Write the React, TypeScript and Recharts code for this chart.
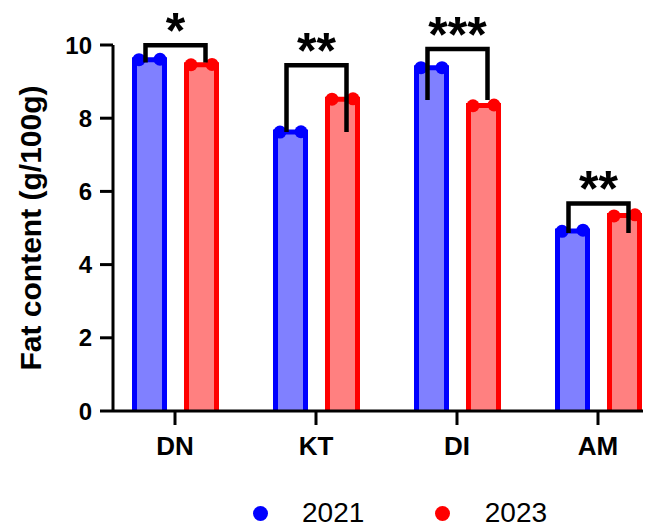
import { BarChart, Bar, XAxis, YAxis, Legend, LabelList } from 'recharts'

// values
const categories = ['DN', 'KT', 'DI', 'AM']
const mean2021 = [9.6, 7.62, 9.38, 4.92]
const mean2023 = [9.46, 8.52, 8.35, 5.34]
const reps2021 = [[9.6, 9.61], [7.62, 7.63], [9.38, 9.38], [4.91, 4.94]]
const reps2023 = [[9.46, 9.47], [8.52, 8.53], [8.34, 8.36], [5.33, 5.36]]
const bracketLow = [9.52, 7.62, 8.5, 4.86]
const bracketHigh = [9.99, 9.45, 9.89, 5.67]
const stars = ['*', '**', '***', '**']
const yTicks = [0, 2, 4, 6, 8, 10]

const rows = categories.map((name, i) => ({
    name,
    y2021: mean2021[i],
    y2023: mean2023[i],
    r2021: reps2021[i],
    r2023: reps2023[i],
    bracket: [bracketLow[i], bracketHigh[i]],
    stars: stars[i],
}))

const font = '"Liberation Sans", Arial, sans-serif'
const dotOffsets = [-10.5, 10.5]

function makeBarShape(meanKey: string, repKey: string, dotColor: string) {
    return (props: any) => {
        const { x, y, width, height, fill, stroke, payload } = props
        const bottom = y + height
        const perUnit = payload[meanKey] ? height / payload[meanKey] : 0
        const cx = x + width / 2
        return (
            <g>
                <rect x={x} y={y} width={width} height={height} fill={fill} />
                <path
                    d={`M${x},${bottom}L${x},${y}L${x + width},${y}L${x + width},${bottom}`}
                    fill="none"
                    stroke={stroke}
                    strokeWidth={5}
                />
                {payload[repKey].map((v: number, i: number) => (
                    <circle key={i} cx={cx + dotOffsets[i]} cy={bottom - v * perUnit} r={6.5} fill={dotColor} />
                ))}
            </g>
        )
    }
}

const BracketShape = (props: any) => {
    const { x, y, width, height } = props
    return (
        <path
            d={`M${x},${y + height}L${x},${y}L${x + width},${y}L${x + width},${y + height}`}
            fill="none"
            stroke="#000"
            strokeWidth={4.5}
        />
    )
}

function LegendContent({ payload }: any) {
    const items = payload || []
    return (
        <div
            style={{
                display: 'flex',
                alignItems: 'center',
                height: 40,
                boxSizing: 'border-box',
                paddingTop: 8,
                paddingLeft: 244.5,
                fontFamily: font,
                fontSize: 28,
                color: '#000',
            }}
        >
            {items.map((entry: any, i: number) => (
                <div
                    key={i}
                    style={{ display: 'flex', alignItems: 'center', marginRight: i < items.length - 1 ? 71 : 0 }}
                >
                    <span
                        style={{
                            display: 'inline-block',
                            width: 15,
                            height: 15,
                            borderRadius: '50%',
                            background: entry.payload?.stroke ?? entry.color,
                            marginRight: 34.5,
                        }}
                    />
                    <span style={{ lineHeight: 1 }}>{entry.value}</span>
                </div>
            ))}
        </div>
    )
}

export default function App() {
    return (
        <div style={{ width: 643, height: 521, overflow: 'hidden', fontFamily: font }}>
            <BarChart
                width={643}
                height={521}
                data={rows}
                margin={{ top: 37, right: 0, bottom: 0, left: 0 }}
                barSize={30}
                barGap={22}
            >
                <XAxis
                    dataKey="name"
                    height={78}
                    padding={{ left: -8.5, right: -17.5 }}
                    interval={0}
                    tickSize={14}
                    tickMargin={12}
                    axisLine={{ stroke: '#000', strokeWidth: 3 }}
                    tickLine={{ stroke: '#000', strokeWidth: 3 }}
                    tick={{ fill: '#000', fontSize: 26, fontWeight: 700 }}
                />
                <XAxis xAxisId="b" dataKey="name" hide padding={{ left: -8.5, right: -17.5 }} />
                <YAxis
                    domain={[0, 10]}
                    ticks={yTicks}
                    width={105}
                    tickSize={13}
                    tickMargin={8}
                    axisLine={{ stroke: '#000', strokeWidth: 3 }}
                    tickLine={{ stroke: '#000', strokeWidth: 3 }}
                    tick={{ fill: '#000', fontSize: 24, fontWeight: 700 }}
                    label={{
                        value: 'Fat content (g/100g)',
                        angle: -90,
                        position: 'center',
                        dx: -30.5,
                        fontSize: 30,
                        fontWeight: 700,
                        fill: '#000',
                    }}
                />
                <Legend verticalAlign="bottom" content={LegendContent} />
                <Bar
                    dataKey="y2021"
                    name="2021"
                    fill="#8080ff"
                    stroke="#0000ff"
                    shape={makeBarShape('y2021', 'r2021', '#0000ff')}
                    isAnimationActive={false}
                />
                <Bar
                    dataKey="y2023"
                    name="2023"
                    fill="#ff8080"
                    stroke="#ff0000"
                    shape={makeBarShape('y2023', 'r2023', '#ff0000')}
                    isAnimationActive={false}
                />
                <Bar
                    xAxisId="b"
                    dataKey="bracket"
                    barSize={60}
                    legendType="none"
                    shape={BracketShape}
                    isAnimationActive={false}
                >
                    <LabelList dataKey="stars" position="top" offset={-3} fill="#000" fontSize={50} fontWeight={700} />
                </Bar>
            </BarChart>
        </div>
    )
}
